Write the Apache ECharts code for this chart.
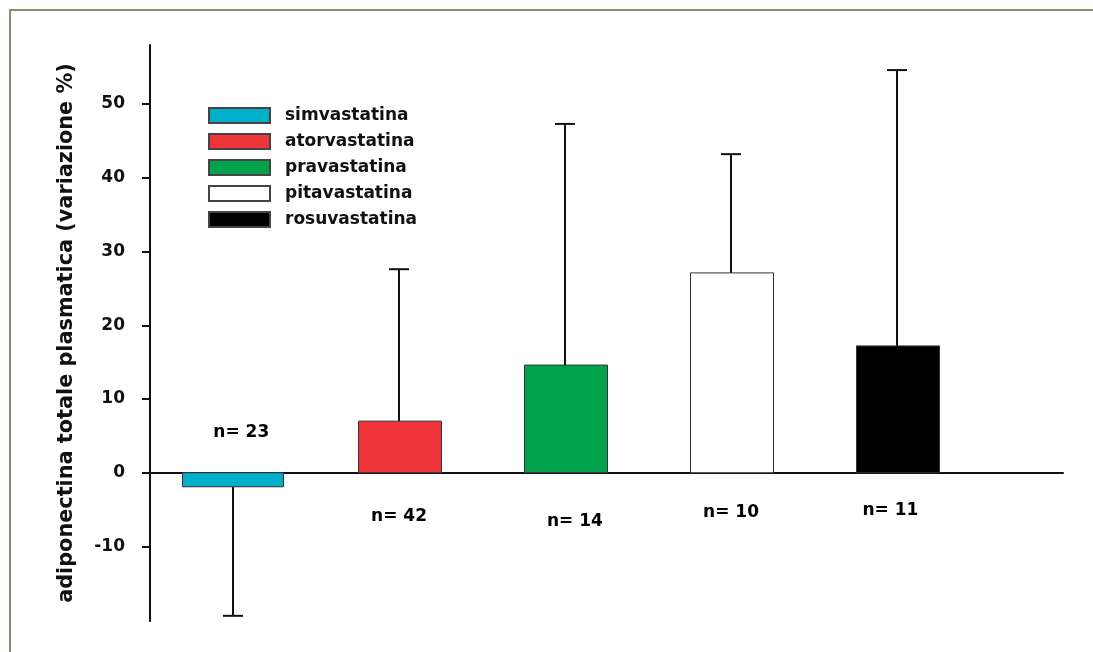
<!DOCTYPE html>
<html>
<head>
<meta charset="utf-8">
<script src="https://cdn.jsdelivr.net/npm/echarts@6/dist/echarts.min.js"></script>
<style>
html,body{margin:0;padding:0;background:#fff;}
#chart{width:1093px;height:652px;}
</style>
</head>
<body>
<div id="chart"></div>
<script>
// ---- data ----
const drugs = ['simvastatina', 'atorvastatina', 'pravastatina', 'pitavastatina', 'rosuvastatina'];
const meanChange = [-1.9, 7.0, 14.6, 27.1, 17.2];
const errorEnd = [-19.4, 27.6, 47.3, 43.2, 54.6];
const sampleLabels = ['n= 23', 'n= 42', 'n= 14', 'n= 10', 'n= 11'];
const sampleLabelX = [1.05, 2.0, 3.06, 4.0, 4.96];
const sampleLabelY = [5.4, -6.0, -6.6, -5.4, -5.1];
const yTicks = [-10, 0, 10, 20, 30, 40, 50];
const yTitle = 'adiponectina totale plasmatica (variazione %)';

// ---- styles ----
const colors = ['#00B0CB', '#EF3539', '#00A24C', '#FFFFFF', '#000000'];
const barWidthUnits = [0.61, 0.5, 0.5, 0.5, 0.5];
const boldFont = 'DejaVu Sans, sans-serif';

function makeRender(wu) {
  return function (params, api) {
    const x = api.value(0), v = api.value(1), e = api.value(2);
    const p0 = api.coord([x, 0]);
    const p1 = api.coord([x, v]);
    const pe = api.coord([x, e]);
    const w = api.size([wu, 0])[0];
    const cx = Math.round(p0[0]);
    const cap = 20;
    const style = api.style();
    return {
      type: 'group',
      children: [
        { type: 'line', shape: { x1: cx, y1: p1[1], x2: cx, y2: pe[1] }, style: { stroke: '#111', lineWidth: 2 } },
        { type: 'line', shape: { x1: cx - cap / 2, y1: pe[1], x2: cx + cap / 2, y2: pe[1] }, style: { stroke: '#111', lineWidth: 2 } },
        { type: 'rect', shape: { x: Math.round(cx - w / 2) + 0.5, y: Math.min(p0[1], p1[1]), width: Math.round(w), height: Math.abs(p1[1] - p0[1]) },
          style: { fill: style.fill, stroke: '#333', lineWidth: 1 } }
      ]
    };
  };
}

const series = drugs.map((name, i) => ({
  name: name,
  type: 'custom',
  renderItem: makeRender(barWidthUnits[i]),
  itemStyle: { color: colors[i], borderColor: '#444', borderWidth: 1 },
  encode: { x: 0, y: [1, 2] },
  data: [[i + 1, meanChange[i], errorEnd[i]]],
  z: 3
}));

series.push({
  name: 'n',
  type: 'scatter',
  symbolSize: 1,
  silent: true,
  itemStyle: { opacity: 0 },
  data: sampleLabels.map((t, i) => ({ value: [sampleLabelX[i], sampleLabelY[i]], label: { formatter: t } })),
  label: { show: true, position: 'inside', color: '#000', opacity: 1, fontWeight: 'bold', fontSize: 17, fontFamily: boldFont },
  z: 4
});

const chart = echarts.init(document.getElementById('chart'), null, { renderer: 'canvas' });
chart.setOption({
  animation: false,
  backgroundColor: '#fff',
  grid: { left: 150, right: 30, top: 45, bottom: 31, containLabel: false },
  graphic: [{
    type: 'rect', shape: { x: 10, y: 10, width: 1200, height: 800 },
    style: { fill: 'none', stroke: '#8A8A6E', lineWidth: 2 }, silent: true, z: 0
  }],
  legend: {
    data: drugs,
    orient: 'vertical',
    left: 208,
    top: 107,
    padding: 0,
    itemWidth: 61,
    itemHeight: 15,
    itemGap: 9,
    icon: 'rect',
    textStyle: { fontSize: 17, fontWeight: 'bold', color: '#111', fontFamily: boldFont, padding: [0, 0, 0, 10] }
  },
  xAxis: {
    type: 'value', min: 0.5, max: 6.0,
    axisLine: { show: true, onZero: true, lineStyle: { color: '#111', width: 2 } },
    axisTick: { show: false }, axisLabel: { show: false }, splitLine: { show: false }
  },
  yAxis: {
    type: 'value', min: -20.1, max: 58,
    name: yTitle, nameLocation: 'middle', nameGap: 73,
    nameTextStyle: { fontSize: 20.8, fontWeight: 'bold', color: '#111', fontFamily: boldFont },
    axisLine: { show: true, onZero: false, lineStyle: { color: '#111', width: 2 } },
    axisTick: { show: true, length: 8, customValues: yTicks, lineStyle: { color: '#111', width: 2 } },
    axisLabel: { customValues: yTicks, margin: 25, fontSize: 17, fontWeight: 'bold', color: '#111', fontFamily: boldFont },
    splitLine: { show: false }
  },
  series: series
});
</script>
</body>
</html>
